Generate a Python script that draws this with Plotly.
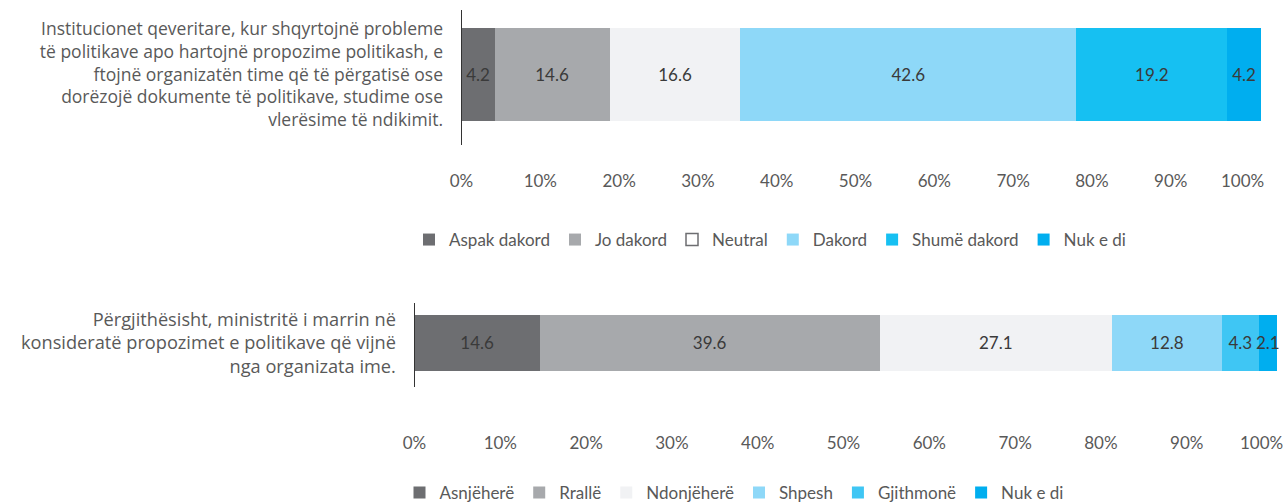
import plotly.graph_objects as go

# ---------------- data ----------------
cat1 = ["Institucionet qeveritare, kur shqyrtojnë probleme<br>të politikave apo hartojnë propozime politikash, e<br>ftojnë organizatën time që të përgatisë ose<br>dorëzojë dokumente të politikave, studime ose<br>vlerësime të ndikimit."]
series1 = ["Aspak dakord", "Jo dakord", "Neutral", "Dakord", "Shumë dakord", "Nuk e di"]
values1 = [4.2, 14.6, 16.6, 42.6, 19.2, 4.2]
colors1 = ["#6d6e71", "#a7a9ac", "#f1f2f4", "#8ed8f8", "#16c0f2", "#00aeef"]

cat2 = ["Përgjithësisht, ministritë i marrin në<br>konsideratë propozimet e politikave që vijnë<br>nga organizata ime."]
series2 = ["Asnjëherë", "Rrallë", "Ndonjëherë", "Shpesh", "Gjithmonë", "Nuk e di"]
values2 = [14.6, 39.6, 27.1, 12.8, 4.3, 2.1]
colors2 = ["#6d6e71", "#a7a9ac", "#f1f2f4", "#8ed8f8", "#3fc6f4", "#00aeef"]

tick_vals = [0, 10, 20, 30, 40, 50, 60, 70, 80, 90, 100]
tick_text = ["0%", "10%", "20%", "30%", "40%", "50%", "60%", "70%", "80%", "90%", "100%"]

FONT = "Lato"
CAT_FONT = "Open Sans"
TXT = "#595959"
VAL = "#3a3a3a"

fig = go.Figure()

for i, (name, v, c) in enumerate(zip(series1, values1, colors1)):
    is_neutral = (name == "Neutral")
    fig.add_trace(go.Bar(
        x=[v], y=cat1, orientation="h", name=name,
        marker=dict(color=c, line=dict(width=0)),
        text=[v], texttemplate="%{x:.1f}", textposition="inside",
        insidetextanchor="middle", textangle=0, constraintext="none",
        cliponaxis=False,
        textfont=dict(family=FONT, size=17, color=VAL),
        width=0.69, xaxis="x", yaxis="y", legend="legend",
        showlegend=not is_neutral, legendrank=i + 1, hoverinfo="skip",
    ))
    if is_neutral:
        # legend-only entry with an outlined swatch, as in the reference
        fig.add_trace(go.Bar(
            x=[None], y=cat1, orientation="h", name=name,
            marker=dict(color="#ffffff", line=dict(color="#6d6e71", width=1.5)),
            xaxis="x", yaxis="y", legend="legend", legendrank=i + 1,
            showlegend=True, hoverinfo="skip",
        ))

for i, (name, v, c) in enumerate(zip(series2, values2, colors2)):
    fig.add_trace(go.Bar(
        x=[v], y=cat2, orientation="h", name=name,
        marker=dict(color=c, line=dict(width=0)),
        text=[v], texttemplate="%{x:.1f}", textposition="inside",
        insidetextanchor="middle", textangle=0, constraintext="none",
        cliponaxis=False,
        textfont=dict(family=FONT, size=17, color=VAL),
        width=0.66, xaxis="x2", yaxis="y2", legend="legend2",
        legendrank=i + 1, hoverinfo="skip",
    ))

# empty traces so the overlay axes (end labels) get drawn
fig.add_trace(go.Bar(x=[None], y=cat1, orientation="h", xaxis="x3", yaxis="y",
                     showlegend=False, hoverinfo="skip"))
fig.add_trace(go.Bar(x=[None], y=cat2, orientation="h", xaxis="x4", yaxis="y2",
                     showlegend=False, hoverinfo="skip"))

W, H = 1284, 502


def px_x(p):
    return p / W


def px_y(p):
    return 1 - p / H


axis_common = dict(showgrid=False, zeroline=False, showline=False, ticks="",
                   automargin=False,
                   tickfont=dict(family=FONT, size=17, color=TXT), fixedrange=True)

yaxis_common = dict(showline=True, linecolor="#333333", linewidth=1,
                    showgrid=False, zeroline=False, ticks="", ticklabelstandoff=14,
                    automargin=False, fixedrange=True)

X1_DOM, X1_RANGE, X1_POS = [px_x(461.5), px_x(1265.3)], [0, 102], px_y(169)
X2_DOM, X2_RANGE, X2_POS = [px_x(414.5), px_x(1281.1)], [0, 101], px_y(431)

fig.update_layout(
    template="none",
    width=W, height=H,
    margin=dict(l=0, r=0, t=0, b=0, pad=0, autoexpand=False),
    paper_bgcolor="white", plot_bgcolor="white",
    barmode="stack",
    font=dict(family=FONT, color=TXT),
    # main value axes: 0% .. 90%
    xaxis=dict(domain=X1_DOM, range=X1_RANGE, anchor="free", position=X1_POS,
               tickvals=tick_vals[:-1], ticktext=tick_text[:-1], **axis_common),
    xaxis2=dict(domain=X2_DOM, range=X2_RANGE, anchor="free", position=X2_POS,
                tickvals=tick_vals[:-1], ticktext=tick_text[:-1], **axis_common),
    # overlay axes carrying only the end label, nudged left as in the reference
    xaxis3=dict(domain=X1_DOM, range=X1_RANGE, anchor="free", position=X1_POS,
                overlaying="x", tickvals=tick_vals[-1:], ticktext=tick_text[-1:],
                ticklabelshift=-7, **axis_common),
    xaxis4=dict(domain=X2_DOM, range=X2_RANGE, anchor="free", position=X2_POS,
                overlaying="x2", tickvals=tick_vals[-1:], ticktext=tick_text[-1:],
                ticklabelshift=-11, **axis_common),
    yaxis=dict(domain=[px_y(145), px_y(10)], range=[-0.523, 0.477],
               anchor="x", tickfont=dict(family=CAT_FONT, size=17.5, color=TXT),
               **yaxis_common),
    yaxis2=dict(domain=[px_y(386.7), px_y(302.7)], range=[-0.522, 0.478],
                anchor="x2", tickfont=dict(family=CAT_FONT, size=18.2, color=TXT),
                **yaxis_common),
    legend=dict(orientation="h", x=px_x(770), xanchor="center",
                y=px_y(240), yanchor="middle",
                font=dict(family=FONT, size=17, color=TXT),
                bgcolor="rgba(0,0,0,0)",
                traceorder="normal", itemclick=False, itemdoubleclick=False),
    legend2=dict(orientation="h", x=px_x(734), xanchor="center",
                 y=px_y(493), yanchor="middle",
                 font=dict(family=FONT, size=17, color=TXT),
                 bgcolor="rgba(0,0,0,0)",
                 traceorder="normal", itemclick=False, itemdoubleclick=False),
    showlegend=True,
)

# remove the browser's default 8px page margin so the figure fills the window
fig.write_html("out.html",
               config={"displayModeBar": False, "staticPlot": True},
               post_script="document.body.style.margin='0';document.body.style.overflow='hidden';")
